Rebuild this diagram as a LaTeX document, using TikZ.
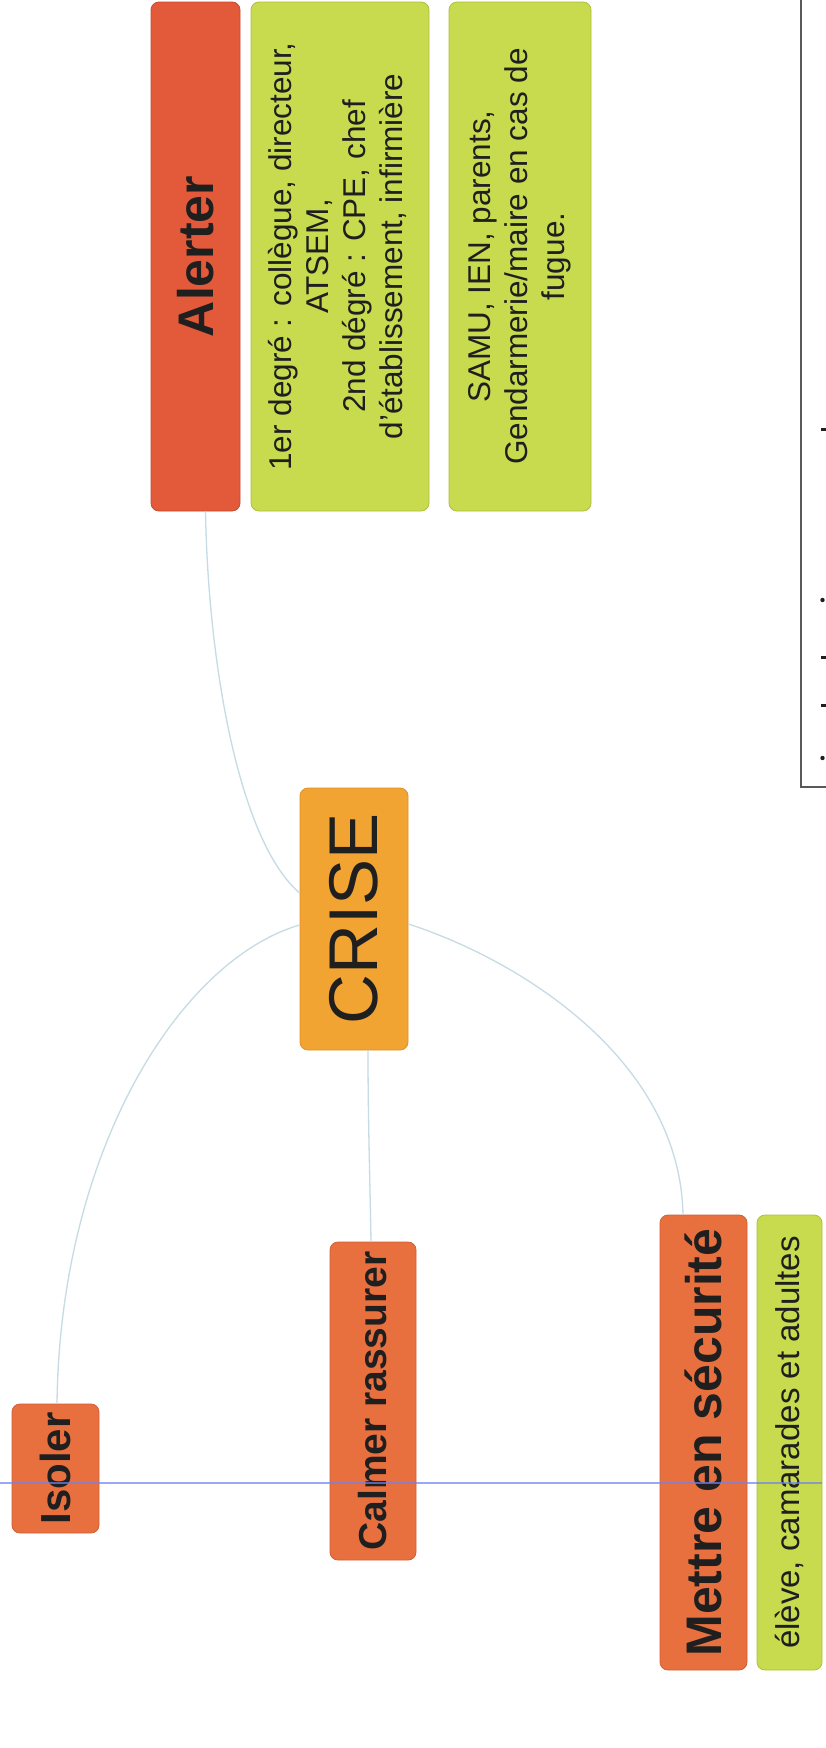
\documentclass[tikz,border=0pt]{standalone}
\usepackage{fontspec}
\setmainfont{Liberation Sans}
\usepackage{graphicx}
\usetikzlibrary{calc}
\definecolor{alertc}{HTML}{E35A3B}
\definecolor{alertd}{HTML}{C84A2F}
\definecolor{topicc}{HTML}{E8703F}
\definecolor{topicd}{HTML}{CF5E33}
\definecolor{greenc}{HTML}{C8DA4E}
\definecolor{greend}{HTML}{AEC03C}
\definecolor{crisec}{HTML}{F2A433}
\definecolor{crised}{HTML}{DE9028}
\definecolor{linec}{HTML}{C6DBE4}
\definecolor{guidec}{HTML}{6F82F0}
\definecolor{txt}{HTML}{1F1F1F}
\newcommand{\myfs}[2]{\fontsize{#1}{#2}\selectfont}
\newcommand{\vt}[1]{\rotatebox{90}{#1}}
\tikzset{
  box/.style={rectangle, rounded corners=8pt, inner sep=0pt, line width=0.8pt, text=txt},
  mainbox/.style={box, fill=alertc, draw=alertd, font=\bfseries\myfs{50}{58}},
  topic/.style={box, fill=topicc, draw=topicd, font=\bfseries\myfs{50}{58}},
  detail/.style={box, fill=greenc, draw=greend, font=\myfs{31.5}{37}},
  central/.style={box, fill=crisec, draw=crised, font=\myfs{69}{80}},
  conn/.style={draw=linec, line width=1.3pt},
  guide/.style={draw=guidec, line width=1.4pt, opacity=0.7},
  frame/.style={draw=black!65, line width=1.6pt},
}
\begin{document}
\begin{tikzpicture}[x=1pt,y=-1pt]
\useasboundingbox (0,0) rectangle (825,1748);
\fill[white] (0,0) rectangle (825,1748);

% boxes
\node[mainbox, minimum width=89pt, minimum height=509pt] (alerter) at (195.5,256.5) {\vt{Alerter}};
\node[detail, minimum width=178pt, minimum height=509pt] (g1) at (340,256.5)
  {\vt{\begin{tabular}{@{}c@{}}1er degré : collègue, directeur,\\ATSEM,\\2nd dégré : CPE, chef\\d'établissement, infirmière\end{tabular}}};
\node[detail, minimum width=142pt, minimum height=509pt] (g2) at (520,256.5)
  {\vt{\begin{tabular}{@{}c@{}}SAMU, IEN, parents,\\Gendarmerie/maire en cas de\\fugue.\end{tabular}}};

\node[central, minimum width=108pt, minimum height=262pt] (crise) at (354,919) {\vt{CRISE}};

\node[topic, font=\bfseries\myfs{42}{50}, minimum width=87pt, minimum height=129pt] (isoler) at (55.5,1468.5) {\vt{Isoler}};
\node[topic, font=\bfseries\myfs{39}{46}, minimum width=86pt, minimum height=318pt] (calmer) at (373,1401) {\vt{Calmer rassurer}};
\node[topic, minimum width=87pt, minimum height=455pt] (mettre) at (703.5,1442.5) {\vt{Mettre en sécurité}};
\node[detail, font=\myfs{33}{38}, minimum width=65pt, minimum height=455pt] (eleve) at (789.5,1442.5) {\vt{élève, camarades et adultes}};

% connectors
\draw[conn] ($(alerter.south)+(10,0)$) .. controls (208,660) and (238,840) .. ($(crise.west)+(0,-26)$);
\draw[conn] ($(crise.west)+(0,6)$) .. controls (180,960) and (60,1150) .. ($(isoler.north)+(1.5,0)$);
\draw[conn] ($(crise.south)+(14,0)$) .. controls (368,1120) and (370,1180) .. ($(calmer.north)+(-2,0)$);
\draw[conn] ($(crise.east)+(0,5)$) .. controls (520,960) and (680,1060) .. ($(mettre.north)+(-20.5,0)$);

% guide line
\coordinate (gl) at (0,1483);
\coordinate (gr) at (822,1483);
\draw[guide] (gl) -- (gr);

% partial frame at right
\coordinate (f1) at (801,-5);
\coordinate (f2) at (801,787);
\coordinate (f3) at (830,787);
\draw[frame] (f1) -- (f2) -- (f3);
\fill[txt] (821,428) rectangle (826,431);
\fill[txt] (822.5,600) circle (2.2pt);
\fill[txt] (821,656) rectangle (826,659);
\fill[txt] (821,704) rectangle (826,707);
\fill[txt] (822.5,758) circle (2.2pt);
\end{tikzpicture}
\end{document}
